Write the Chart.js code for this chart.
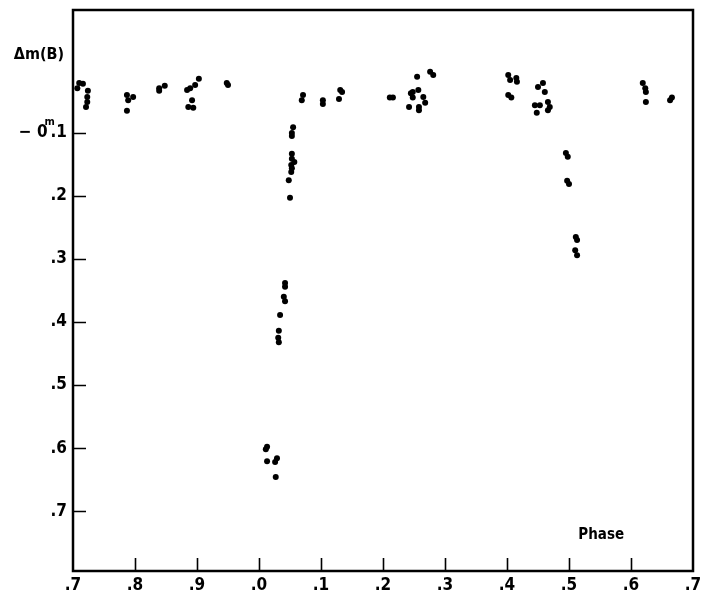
<!DOCTYPE html>
<html><head><meta charset="utf-8">
<style>html,body{margin:0;padding:0;background:#fff}#wrap{width:702px;height:603px}</style>
<script src="https://cdn.jsdelivr.net/npm/chart.js@4.4.1/dist/chart.umd.min.js"></script>
</head><body><div id="wrap"><canvas id="c" width="702" height="603"></canvas></div>
<script>
// Phase written continuously: 0.7 .. 1.0 (=.0) .. 1.7
const phase = [
  0.710,0.716,0.707,0.724,0.723,0.723,0.721,
  0.787,0.789,0.797,0.787,
  0.839,0.839,0.848,
  0.884,0.889,0.897,0.903,0.892,0.886,0.894,
  0.948,0.950,
  1.055,1.053,1.053,1.053,1.053,1.057,1.052,1.053,1.052,1.048,1.050,
  1.042,1.042,1.040,1.042,1.034,1.032,1.031,1.032,
  1.013,1.011,1.013,1.029,1.026,1.027,
  1.071,1.069,1.103,1.103,1.131,1.134,1.129,
  1.211,1.216,1.245,1.248,1.257,1.255,1.276,1.281,1.242,1.258,1.258,1.265,1.268,1.248,
  1.402,1.405,1.415,1.416,1.402,1.407,
  1.450,1.458,1.461,1.445,1.453,1.466,1.469,1.466,1.448,
  1.495,1.498,1.497,1.500,1.511,1.513,1.510,1.513,
  1.619,1.623,1.624,1.624,
  1.663,1.666
];
const dmag = [
  0.021,0.022,0.029,0.033,0.043,0.051,0.059,
  0.040,0.048,0.043,0.065,
  0.029,0.033,0.025,
  0.032,0.029,0.024,0.014,0.048,0.059,0.060,
  0.021,0.024,
  0.091,0.100,0.105,0.133,0.141,0.146,0.151,0.156,0.162,0.175,0.203,
  0.338,0.344,0.360,0.367,0.389,0.414,0.425,0.432,
  0.598,0.602,0.621,0.616,0.622,0.646,
  0.040,0.048,0.048,0.054,0.032,0.035,0.046,
  0.044,0.044,0.037,0.035,0.032,0.011,0.003,0.008,0.059,0.064,0.059,0.043,0.052,0.044,
  0.008,0.016,0.013,0.019,0.040,0.044,
  0.027,0.021,0.035,0.056,0.056,0.051,0.059,0.064,0.068,
  0.132,0.138,0.176,0.181,0.265,0.270,0.286,0.294,
  0.021,0.029,0.035,0.051,
  0.048,0.044
];
const xTickValues = [0.7,0.8,0.9,1.0,1.1,1.2,1.3,1.4,1.5,1.6,1.7];
const xTickLabels = ['.7','.8','.9','.0','.1','.2','.3','.4','.5','.6','.7'];
const yTickValues = [0.1,0.2,0.3,0.4,0.5,0.6,0.7];
const yTickLabels = ['\u2212 0m.1','.2','.3','.4','.5','.6','.7'];
const yAxisTitle = '\u0394m(B)';
const xAxisTitle = 'Phase';

const FONT = "'DejaVu Sans Condensed','DejaVu Sans',sans-serif";

const points = phase.map((p,i)=>({x:p,y:dmag[i]}));

const framePlugin = {
  id:'frame',
  afterDraw(chart){
    const {ctx, chartArea:a, scales:{x,y}} = chart;
    ctx.save();
    ctx.strokeStyle='#000';
    ctx.lineWidth=2.5;
    ctx.strokeRect(a.left, a.top, a.right-a.left, a.bottom-a.top);
    ctx.lineWidth=1.6;
    ctx.beginPath();
    xTickValues.slice(1,-1).forEach(v=>{
      const px=Math.round(x.getPixelForValue(v))+0.5;
      ctx.moveTo(px,a.bottom); ctx.lineTo(px,a.bottom-13);
    });
    yTickValues.forEach(v=>{
      const py=Math.round(y.getPixelForValue(v))+0.5;
      ctx.moveTo(a.left,py); ctx.lineTo(a.left+13,py);
    });
    ctx.stroke();
    ctx.fillStyle='#000';
    // first y label with superscript "m": "− 0ᵐ.1"
    const py=y.getPixelForValue(yTickValues[0]);
    const right=a.left-6;
    ctx.font="bold 17px "+FONT; ctx.textBaseline='middle'; ctx.textAlign='right';
    const parts=yTickLabels[0].split('m'); // ["− 0", ".1"]
    ctx.fillText(parts[1], right, py);
    const w1=ctx.measureText(parts[1]).width;
    ctx.fillText(parts[0], right-w1-3, py);
    ctx.font="bold 11px "+FONT; ctx.textAlign='left';
    ctx.fillText('m', right-w1-6, py-11);
    ctx.font="bold 16px "+FONT;
    ctx.textAlign='center'; ctx.textBaseline='middle';
    ctx.fillText(yAxisTitle, 39, y.getPixelForValue(-0.024));
    ctx.font="bold 15px "+FONT;
    ctx.fillText(xAxisTitle, x.getPixelForValue(1.552), y.getPixelForValue(0.738));
    ctx.restore();
  }
};

new Chart(document.getElementById('c'),{
  type:'scatter',
  data:{datasets:[{data:points,backgroundColor:'#000',borderWidth:0,pointRadius:3,pointHoverRadius:3}]},
  options:{
    responsive:false,animation:false,devicePixelRatio:1,
    layout:{padding:{top:10,right:9,left:0,bottom:0}},
    plugins:{legend:{display:false},tooltip:{enabled:false}},
    scales:{
      x:{type:'linear',min:0.7,max:1.7,
        afterFit:s=>{s.height=32;s.paddingLeft=0;s.paddingRight=0;},
        afterBuildTicks:s=>{s.ticks=xTickValues.map(v=>({value:v}));},
        grid:{display:false,drawTicks:false},border:{display:false},
        ticks:{padding:4,color:'#000',font:{family:FONT,size:17,weight:'bold'},maxRotation:0,autoSkip:false,
          callback:(v)=>{const i=xTickValues.findIndex(t=>Math.abs(t-v)<1e-6);return i>=0?xTickLabels[i]:'';}}
      },
      y:{type:'linear',reverse:true,min:-0.095,max:0.795,
        afterFit:s=>{s.width=73;s.paddingTop=0;s.paddingBottom=0;},
        afterBuildTicks:s=>{s.ticks=yTickValues.map(v=>({value:v}));},
        grid:{display:false,drawTicks:false},border:{display:false},
        ticks:{padding:6,color:'#000',font:{family:FONT,size:17,weight:'bold'},autoSkip:false,
          callback:(v)=>{const i=yTickValues.findIndex(t=>Math.abs(t-v)<1e-6);return i>0?yTickLabels[i]:'';}}
      }
    }
  },
  plugins:[framePlugin]
});
</script></body></html>
